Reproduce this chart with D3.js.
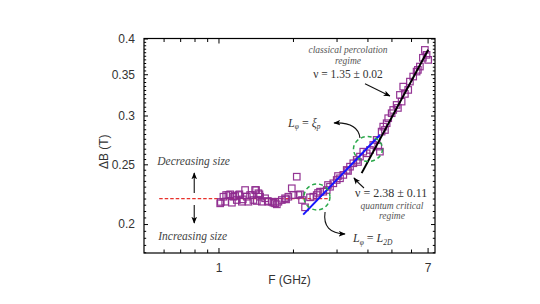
<!DOCTYPE html>
<html><head><meta charset="utf-8">
<script src="https://cdn.jsdelivr.net/npm/d3@7"></script>
<style>html,body{margin:0;padding:0;background:#fff;}svg{display:block;}</style>
</head><body>
<svg id="chart" width="540" height="304"></svg>
<script>
// ---- data ----
const freqGHz = [
 1.016,1.047,1.064,1.097,1.133,1.150,1.186,1.204,1.243,1.281,1.302,1.322,1.342,1.384,1.406,1.450,1.473,1.497,1.543,1.591,
 1.642,1.694,1.747,1.803,1.858,1.916,1.978,2.007,2.072,2.103,
 1.022,1.074,1.115,1.168,1.215,1.254,1.364,1.429,1.419,1.464,1.582,1.667,1.721,1.876,2.136,
 2.176,2.238,2.344,2.417,2.495,2.526,2.573,2.653,2.738,2.771,2.823,2.911,3.005,3.041,3.098,3.195,3.298,3.338,3.401,3.507,
 3.619,3.664,3.731,3.847,3.971,4.095,4.223,4.358,4.423,4.492,
 4.564,4.633,4.707,4.782,4.853,5.010,5.084,5.247,5.311,5.497,5.411,5.667,5.845,5.579,5.938,6.123,6.319,6.396,6.516,6.700,
 7.039,6.934,6.825
];
const deltaB = [
 0.2161,0.2215,0.2174,0.2229,0.2166,0.2215,0.2188,0.2229,0.2174,0.2271,0.2215,0.2174,0.2229,0.2188,0.2271,0.2244,0.2215,0.2174,0.2202,0.2174,
 0.2174,0.2161,0.2174,0.2188,0.2202,0.2215,0.2286,0.2229,0.2387,0.2229,
 0.2172,0.2229,0.2235,0.2221,0.2235,0.2193,0.2229,0.2180,0.2271,0.2235,0.2180,0.2166,0.2153,0.2193,0.2235,
 0.2188,0.2129,0.2210,0.2215,0.2229,0.2246,0.2257,0.2257,0.2271,0.2314,0.2299,0.2329,0.2358,0.2393,0.2373,0.2403,0.2448,0.2439,0.2478,0.2510,
 0.2541,0.2522,0.2573,0.2621,0.2605,0.2638,0.2688,0.2739,0.2671,0.2621,
 0.2825,0.2878,0.2842,0.2915,0.2970,0.3026,0.3063,0.3121,0.3086,0.3160,0.3240,0.3252,0.3301,0.3342,0.3405,0.3470,0.3535,0.3558,0.3602,0.3722,
 0.3693,0.3763,0.3833
];
const plateauF = [0.576, 2.77];   const plateauB = 0.22;
const fitBlueF = [2.20, 4.49];    const fitBlueB = [0.2072, 0.279];
const fitBlackF = [3.79, 7.04];   const fitBlackB = [0.2419, 0.3835];
const xMajor = [1, 7];
const xMinor = [0.6, 0.7, 0.8, 0.9, 2, 3, 4, 5, 6];
const yMajor = [0.2, 0.25, 0.3, 0.35, 0.4];
const yMinor = d3.range(0.18, 0.4001, 0.005).map(v => +v.toFixed(3));
const xDomain = [0.5, 7.5];
const yDomain = [0.1795, 0.4];

// ---- layout ----
const L = 144, R = 435, T = 38.5, B = 253;
const svg = d3.select("#chart");
const x = d3.scaleLog().domain(xDomain).range([L, R]);
const y = d3.scaleLog().domain(yDomain).range([B, T]);

const defs = svg.append("defs");
defs.append("marker").attr("id","ah").attr("viewBox","0 0 10 10").attr("refX",9).attr("refY",5)
  .attr("markerWidth",7).attr("markerHeight",7).attr("orient","auto-start-reverse")
  .attr("markerUnits","userSpaceOnUse")
  .append("path").attr("d","M0,1 L10,5 L0,9 L2.5,5 Z").attr("fill","#000");

// frame
svg.append("rect").attr("x",L).attr("y",T).attr("width",R-L).attr("height",B-T)
  .attr("fill","none").attr("stroke","#000").attr("stroke-width",1.2);

function tickLayer(axisFn, scale, vals, size, tx, ty, labels) {
  const a = axisFn(scale).tickValues(vals).tickSize(-size).tickSizeOuter(0);
  if (labels) a.tickFormat(labels).tickPadding(size + 5); else a.tickFormat("");
  const g = svg.append("g").attr("transform",`translate(${tx},${ty})`).call(a);
  g.select(".domain").remove();
  g.selectAll(".tick line").attr("stroke","#000").attr("stroke-width",1);
  g.selectAll("text").attr("font-family","Liberation Sans, Arial, sans-serif").attr("font-size",12).attr("fill","#333");
  return g;
}
// x axes
tickLayer(d3.axisBottom, x, xMajor, 5, 0, B, d => d3.format("d")(d));
tickLayer(d3.axisBottom, x, xMinor, 3.5, 0, B, null);
tickLayer(d3.axisTop, x, xMajor, 5, 0, T, null);
tickLayer(d3.axisTop, x, xMinor, 3.5, 0, T, null);
// y axes
const yMinorOnly = yMinor.filter(v => !yMajor.some(m => Math.abs(m-v)<1e-6));
tickLayer(d3.axisLeft, y, yMajor, 4, L, 0, d => String(+d.toFixed(2)));
tickLayer(d3.axisLeft, y, yMinorOnly, 2.2, L, 0, null);
tickLayer(d3.axisRight, y, yMajor, 4, R, 0, null);
tickLayer(d3.axisRight, y, yMinorOnly, 2.2, R, 0, null);

// axis titles
svg.append("text").attr("x",(L+R)/2).attr("y",284).attr("text-anchor","middle")
  .attr("font-family","Liberation Sans, Arial, sans-serif").attr("font-size",12).attr("fill","#333").text("F (GHz)");
svg.append("text").attr("transform",`translate(108,${(T+B)/2 + 6}) rotate(-90)`).attr("text-anchor","middle")
  .attr("font-family","Liberation Sans, Arial, sans-serif").attr("font-size",12).attr("fill","#333").text("ΔB (T)");

// plateau red dashed
svg.append("line").attr("x1",x(plateauF[0])).attr("x2",x(plateauF[1]))
  .attr("y1",y(plateauB)).attr("y2",y(plateauB))
  .attr("stroke","#e8312b").attr("stroke-width",1.2).attr("stroke-dasharray","3.5,2");

// data squares
const pts = freqGHz.map((f,i) => ({f, b: deltaB[i]}));
const s = 6.5;
svg.append("g").selectAll("rect").data(pts).join("rect")
  .attr("x", d => x(d.f) - s/2).attr("y", d => y(d.b) - s/2)
  .attr("width", s).attr("height", s)
  .attr("fill","none").attr("stroke","#8e2a8e").attr("stroke-width",1.2).attr("opacity",0.95);

// fit lines
const line = d3.line().x(d => x(d[0])).y(d => y(d[1]));
svg.append("path").attr("d", line(fitBlackF.map((f,i)=>[f,fitBlackB[i]])))
  .attr("stroke","#000").attr("stroke-width",2).attr("fill","none");
svg.append("path").attr("d", line(fitBlueF.map((f,i)=>[f,fitBlueB[i]])))
  .attr("stroke","#1515ff").attr("stroke-width",2).attr("fill","none");

// green dashed ellipses
const ellipses = [ {f:2.50, b:0.2213, rx:13, ry:13}, {f:4.02, b:0.2647, rx:14.5, ry:12.5} ];
svg.append("g").selectAll("ellipse").data(ellipses).join("ellipse")
  .attr("cx", d => x(d.f)).attr("cy", d => y(d.b)).attr("rx", d => d.rx).attr("ry", d => d.ry)
  .attr("fill","none").attr("stroke","#2aa84a").attr("stroke-width",1.5).attr("stroke-dasharray","4,3");

// arrows
function qArrow(p0, c, p1) {
  svg.append("path")
    .attr("d", `M${x(p0[0])},${y(p0[1])} Q${x(c[0])},${y(c[1])} ${x(p1[0])},${y(p1[1])}`)
    .attr("fill","none").attr("stroke","#111").attr("stroke-width",1.1).attr("marker-end","url(#ah)");
}
qArrow([3.91,0.3377],[4.40,0.3300],[4.93,0.3228]);
qArrow([3.731,0.2759],[3.664,0.2929],[2.930,0.2918]);
qArrow([3.873,0.2288],[3.664,0.2332],[3.528,0.2376]);
qArrow([2.696,0.2092],[2.621,0.1934],[3.246,0.1927]);
qArrow([0.798,0.2246],[0.798,0.2330],[0.798,0.2420]);
qArrow([0.798,0.2147],[0.798,0.2077],[0.798,0.2007]);

// annotation text
const serif = "Liberation Serif, Times New Roman, serif";
function txt(f, b, str, opts) {
  return svg.append("text").attr("x", x(f)).attr("y", y(b))
    .attr("font-family", serif).attr("font-size", opts.size || 11)
    .attr("font-style", opts.italic ? "italic" : "normal")
    .attr("fill", opts.fill || "#333").attr("text-anchor", opts.anchor || "start")
    .text(str);
}
txt(3.338,0.3785,"classical percolation",{size:9.5,italic:true,fill:"#555",anchor:"middle"});
txt(3.338,0.3639,"regime",{size:9.5,italic:true,fill:"#555",anchor:"middle"});
txt(3.338,0.3454,"ν = 1.35 ± 0.02",{size:11.5,fill:"#333",anchor:"middle"});
txt(5.023,0.2118,"quantum critical",{size:9.5,italic:true,fill:"#555",anchor:"middle"});
txt(5.023,0.2036,"regime",{size:9.5,italic:true,fill:"#555",anchor:"middle"});
txt(3.562,0.2212,"ν = 2.38 ± 0.11",{size:12,fill:"#333"});
txt(0.5657,0.2494,"Decreasing size",{size:11.5,italic:true,fill:"#444"});
txt(0.571,0.1884,"Increasing size",{size:11.5,italic:true,fill:"#444"});

function lphi(f, b, rhsMain, rhsSub, size) {
  const t = txt(f, b, "", {size, fill:"#333"});
  t.append("tspan").attr("font-style","italic").text("L");
  t.append("tspan").attr("font-style","italic").attr("font-size", size*0.62).attr("dy", 2.5).text("φ");
  t.append("tspan").attr("dy", -2.5).text(" = ");
  t.append("tspan").attr("font-style","italic").text(rhsMain);
  t.append("tspan").attr("font-style","italic").attr("font-size", size*0.62).attr("dy", 2.5).text(rhsSub);
}
lphi(1.911, 0.2875, "ξ", "p", 12);
lphi(3.496, 0.1870, "L", "2D", 12);
</script>
</body></html>
